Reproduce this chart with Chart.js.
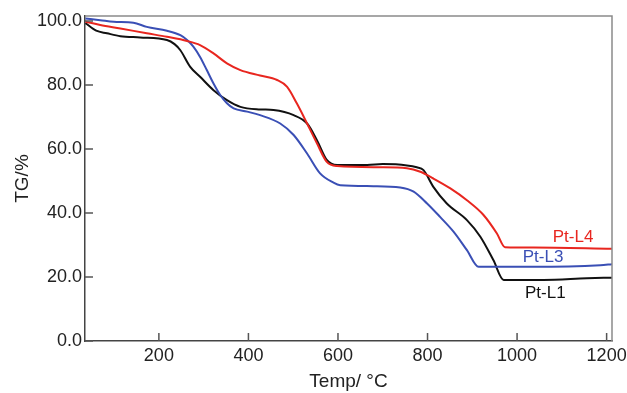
<!DOCTYPE html>
<html>
<head>
<meta charset="utf-8">
<script src="https://cdn.jsdelivr.net/npm/chart.js@4.4.0/dist/chart.umd.min.js"></script>
<style>
  html, body { margin: 0; padding: 0; background: #fff; }
  #wrap { width: 627px; height: 393px; }
</style>
</head>
<body>
<div id="wrap"><canvas id="tg-chart" width="627" height="393"></canvas></div>
<script>
// TG curves (temperature in °C, mass in %)
const l1Temp = [36, 60, 84, 114, 158, 218, 235, 248, 270, 292, 322, 352, 382, 426, 456, 501, 531, 553, 575, 598, 665, 700, 754, 776, 791, 813, 843, 888, 918, 947, 970, 1059, 1156, 1212];
const l1Mass = [99.4, 97.0, 96.2, 95.3, 94.9, 94.1, 92.8, 90.9, 85.7, 82.6, 78.4, 75.3, 73.2, 72.4, 72.2, 70.6, 68.0, 62.8, 56.6, 55.0, 55.0, 55.3, 54.9, 54.3, 53.4, 48.2, 43.0, 37.8, 32.6, 25.3, 19.1, 19.1, 19.6, 19.8];

const l3Temp = [36, 69, 99, 143, 173, 218, 248, 263, 277, 292, 307, 322, 337, 352, 367, 397, 426, 471, 501, 531, 560, 590, 605, 679, 739, 769, 799, 828, 858, 888, 914, 1037, 1186, 1212];
const l3Mass = [100.8, 100.3, 99.8, 99.5, 98.2, 97.0, 95.6, 94.1, 92.0, 88.8, 84.7, 80.5, 76.9, 74.3, 72.7, 71.7, 70.6, 68.0, 64.4, 58.6, 52.4, 49.5, 48.7, 48.4, 48.0, 46.7, 43.0, 38.8, 34.2, 28.4, 23.2, 23.2, 23.7, 24.0];

const l4Temp = [36, 69, 114, 173, 218, 263, 292, 322, 352, 382, 426, 464, 486, 508, 531, 553, 575, 598, 694, 754, 784, 813, 851, 888, 925, 955, 973, 1037, 1212];
const l4Mass = [99.8, 98.8, 97.7, 96.2, 95.1, 93.8, 92.5, 89.9, 86.8, 84.7, 83.0, 81.6, 79.5, 74.3, 68.0, 61.8, 56.0, 54.7, 54.3, 54.0, 52.9, 50.8, 47.7, 44.0, 39.4, 33.6, 29.3, 29.2, 28.8];

const xTicks = [200, 400, 600, 800, 1000, 1200];
const yTicks = [0, 20, 40, 60, 80, 100];

// in-plot curve labels: [text, temp, mass, colour]
const curveLabels = [
  ["Pt-L4", 1125, 32.5, "#e8261f"],
  ["Pt-L3", 1058, 26.3, "#3a4fb5"],
  ["Pt-L1", 1063, 15.0, "#111111"],
];

const FONT = "'Liberation Sans', Arial, Helvetica, sans-serif";

function pts(xs, ys) {
  return xs.map((x, i) => ({ x: x, y: ys[i] }));
}

function line(label, xs, ys, color) {
  return {
    label: label,
    data: pts(xs, ys),
    borderColor: color,
    borderWidth: 2,
    pointRadius: 0,
    fill: false,
    cubicInterpolationMode: "monotone",
  };
}

// inward tick marks, grey top/right frame and the curve names
const frameAndLabels = {
  id: "frameAndLabels",
  afterDraw(chart) {
    const ctx = chart.ctx;
    const a = chart.chartArea;
    const xs = chart.scales.x, ys = chart.scales.y;
    ctx.save();
    ctx.strokeStyle = "#8a8a8a";
    ctx.lineWidth = 1.5;
    ctx.beginPath();
    ctx.moveTo(a.left, a.top);
    ctx.lineTo(a.right, a.top);
    ctx.lineTo(a.right, a.bottom);
    ctx.stroke();

    ctx.strokeStyle = "#555";
    ctx.lineWidth = 1.5;
    ctx.beginPath();
    xTicks.forEach(v => {
      const px = xs.getPixelForValue(v);
      ctx.moveTo(px, a.bottom);
      ctx.lineTo(px, a.bottom - 8);
    });
    yTicks.forEach(v => {
      const py = ys.getPixelForValue(v);
      ctx.moveTo(a.left, py);
      ctx.lineTo(a.left + 8, py);
    });
    ctx.stroke();

    ctx.font = "17px " + FONT;
    ctx.textAlign = "center";
    ctx.textBaseline = "middle";
    curveLabels.forEach(([t, x, y, c]) => {
      ctx.fillStyle = c;
      ctx.fillText(t, xs.getPixelForValue(x), ys.getPixelForValue(y));
    });
    ctx.restore();
  },
};

const config = {
  type: "line",
  data: {
    datasets: [
      line("Pt-L4", l4Temp, l4Mass, "#e8261f"),
      line("Pt-L3", l3Temp, l3Mass, "#3a4fb5"),
      line("Pt-L1", l1Temp, l1Mass, "#111111"),
    ],
  },
  options: {
    responsive: false,
    animation: false,
    layout: { padding: { left: 0, right: 15, top: 16, bottom: 0 } },
    plugins: {
      legend: { display: false },
      tooltip: { enabled: false },
    },
    scales: {
      x: {
        type: "linear",
        min: 35,
        max: 1212,
        afterFit: s => { s.height = 52; s.paddingRight = 0; },
        afterBuildTicks: s => { s.ticks = xTicks.map(v => ({ value: v })); },
        grid: { drawOnChartArea: false, drawTicks: false },
        border: { display: true, color: "#444", width: 1.5 },
        ticks: {
          color: "#222",
          padding: 4,
          font: { family: FONT, size: 18 },
          maxRotation: 0,
          callback: v => String(v),
        },
        title: {
          display: true,
          text: "Temp/ °C",
          color: "#222",
          font: { family: FONT, size: 19 },
          padding: { top: 0, bottom: 0 },
        },
      },
      y: {
        min: 0,
        max: 101.6,
        afterFit: s => { s.width = 85; },
        afterBuildTicks: s => { s.ticks = yTicks.map(v => ({ value: v })); },
        grid: { drawOnChartArea: false, drawTicks: false },
        border: { display: true, color: "#444", width: 1.5 },
        ticks: {
          color: "#222",
          padding: 3,
          font: { family: FONT, size: 18 },
          callback: v => v.toFixed(1),
        },
        title: {
          display: true,
          text: "TG/%",
          color: "#222",
          font: { family: FONT, size: 19 },
          padding: { top: 11, bottom: 0 },
        },
      },
    },
  },
  plugins: [frameAndLabels],
};

new Chart(document.getElementById("tg-chart").getContext("2d"), config);
</script>
</body>
</html>
